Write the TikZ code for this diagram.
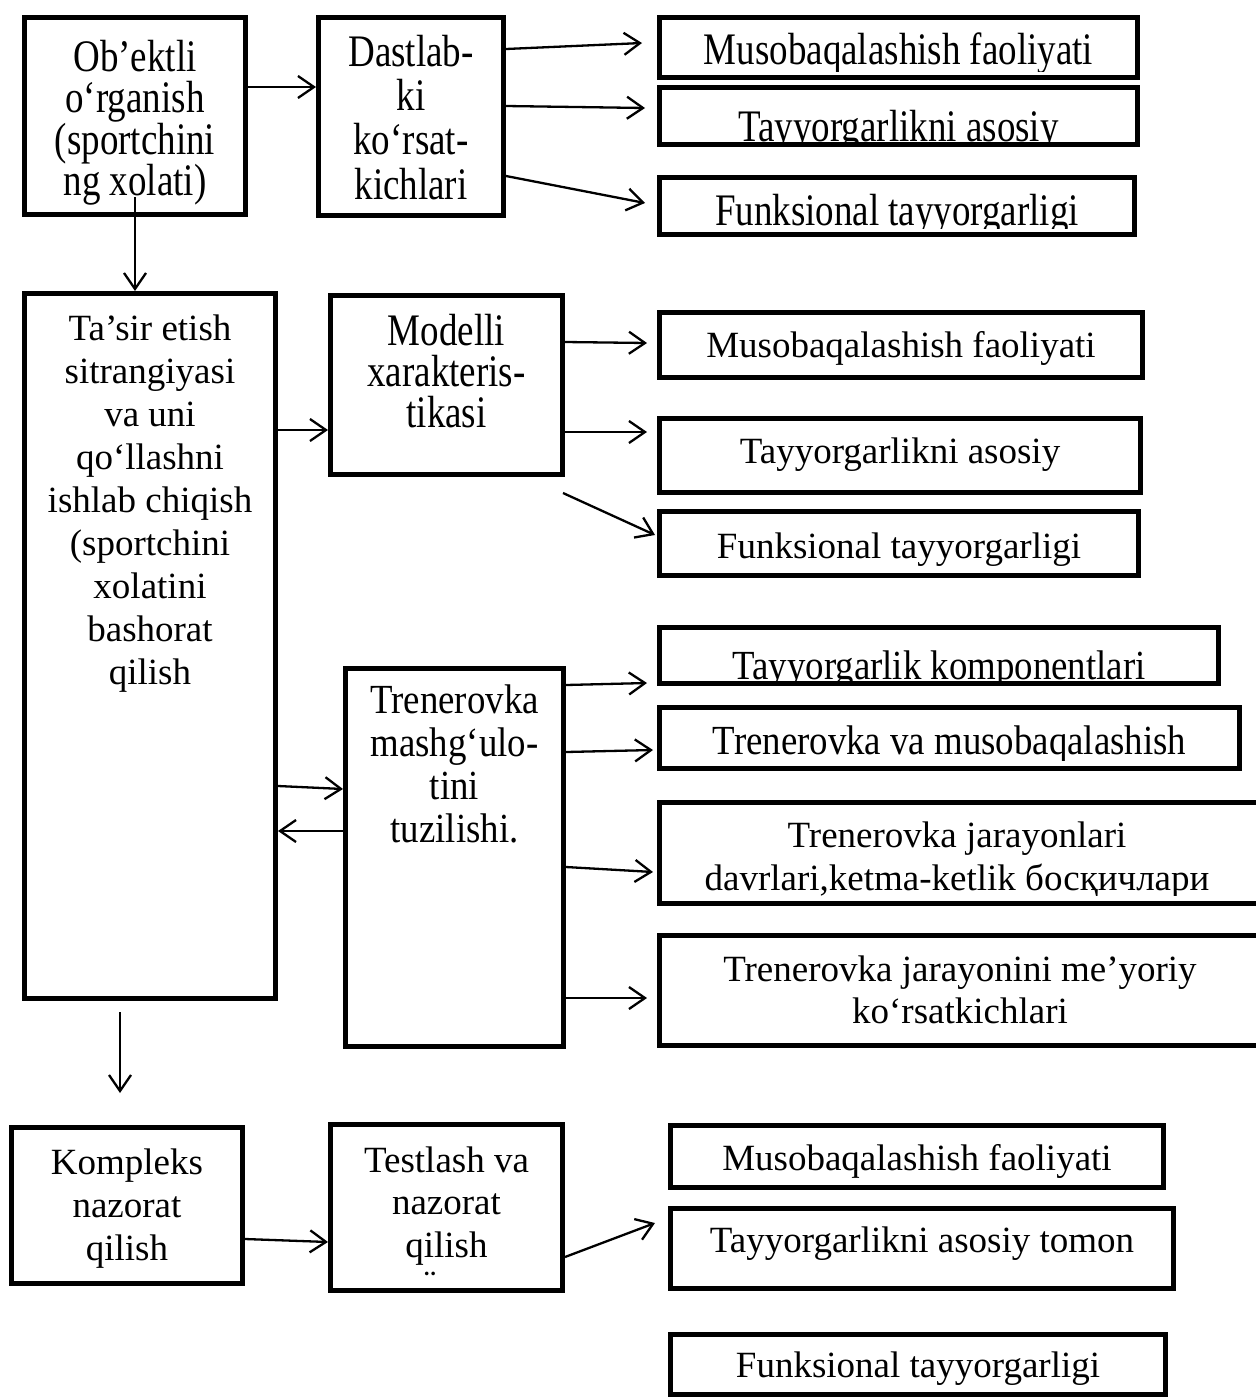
\documentclass[tikz,border=0pt]{standalone}
\usepackage{fontspec}
\setmainfont{Liberation Serif}
\newfontfamily\tallfont{Liberation Serif}[FakeStretch=0.82]
\newfontfamily\midfont{Liberation Serif}[FakeStretch=0.89]
\usetikzlibrary{arrows.meta,calc}

% box from its outer corners: name, x1, y1, x2, y2
\newcommand\mkbox[5]{\node[bx, minimum width={(#4-#2-5)*1pt}, minimum height={(#5-#3-5)*1pt}] (#1) at ({(#2+#4)/2},{(#3+#5)/2}) {};}
% one line of text cut off inside its box: name, box, x, baseline, cut line, style, text
\newcommand\cuttext[7]{\begin{scope}\clip (#2.north west) rectangle (#2.east |- 0,#5);
  \node[#6, anchor=base] (#1) at (#3,#4) {#7};\end{scope}}
% strut that fixes the height of a first line (baseline = top + 35)
\newcommand\firstline{\rule{0pt}{35pt}}

\tikzset{
  bx/.style={draw, line width=5pt, inner sep=0pt},
  fnt/.style n args={3}{font={#1\fontsize{#2}{#3}\selectfont}},
  lbl/.style={fnt={\rmfamily}{37}{42.5}, inner sep=0pt, align=center},
  tall/.style={lbl, fnt={\tallfont}{45.1}{42}},
  mid/.style={lbl, fnt={\midfont}{41.4}{43}},
  ml/.style={anchor=north},
  arr/.style={line width=2.3pt, -{Straight Barb[length=16pt,width=22pt]}}
}

\begin{document}
\lineskiplimit=-50pt\relax
\normallineskiplimit=-50pt\relax
\begin{tikzpicture}[x=1pt, y=-1pt]
\fill[white] (0,0) rectangle (1256,1398);
\useasboundingbox (0,0) rectangle (1256,1398);

% ---- boxes ----
\mkbox{A}{22}{15}{248}{217}
\mkbox{B}{316}{15}{506}{218}
\mkbox{R1}{657}{15}{1140}{80}
\mkbox{R2}{657}{85}{1140}{147}
\mkbox{R3}{657}{175}{1137}{237}
\mkbox{C}{22}{291}{278}{1001}
\mkbox{D}{328}{293}{565}{477}
\mkbox{R4}{657}{310}{1145}{380}
\mkbox{R5}{657}{416}{1143}{495}
\mkbox{R6}{657}{509}{1141}{578}
\mkbox{E}{343}{666}{566}{1049}
\mkbox{R7}{657}{625}{1221}{686}
\mkbox{R8}{657}{705}{1242}{771}
\mkbox{R9}{657}{800}{1264}{906}
\mkbox{R10}{657}{933}{1264}{1048}
\mkbox{F}{9}{1125}{245}{1286}
\mkbox{G}{328}{1122}{565}{1293}
\mkbox{R11}{668}{1123}{1166}{1190}
\mkbox{R12}{668}{1206}{1176}{1291}
\mkbox{R13}{668}{1332}{1168}{1397}

% ---- texts of the left and middle columns ----
\node[tall, ml, fnt={\tallfont}{45.1}{41.5}] (tA) at (135,36) {\firstline Ob’ektli\\o‘rganish\\(sportchini\\ng xolati)};
\node[tall, ml, fnt={\tallfont}{45.1}{44.3}] (tB) at (411,31) {\firstline Dastlab-\\ki\\ko‘rsat-\\kichlari};
\node[lbl, ml, fnt={\rmfamily}{37}{43}] (tC) at (150,305) {\firstline Ta’sir etish\\sitrangiyasi\\va uni\\qo‘llashni\\ishlab chiqish\\(sportchini\\xolatini\\bashorat\\qilish};
\node[tall, ml, fnt={\tallfont}{45.1}{41}] (tD) at (446.5,310) {\firstline Modelli\\xarakteris-\\tikasi};
\node[mid, ml] (tE) at (454.5,678) {\firstline Trenerovka\\mashg‘ulo-\\tini\\tuzilishi.};
\node[lbl, ml, fnt={\rmfamily}{37}{43}] (tF) at (127,1139) {\firstline Kompleks\\nazorat\\qilish};
\node[lbl, ml] (tG) at (446.5,1137) {\firstline Testlash va\\nazorat\\qilish};
\node[lbl] (tGd) at (430,1284) {¨};

% ---- texts of the right column ----
\cuttext{tR1}{R1}{898.5}{64}{71}{tall}{Musobaqalashish faoliyati}
\cuttext{tR2}{R2}{898.5}{141}{143}{tall}{Tayyorgarlikni asosiy}
\cuttext{tR3}{R3}{897}{225}{228}{tall}{Funksional tayyorgarligi}
\node[lbl, anchor=base] (tR4) at (901,357) {Musobaqalashish faoliyati};
\node[lbl, anchor=base] (tR5) at (900,463) {Tayyorgarlikni asosiy};
\cuttext{tR6}{R6}{899}{558}{569}{lbl}{Funksional tayyorgarligi}
\cuttext{tR7}{R7}{939}{679}{681}{mid}{Tayyorgarlik komponentlari}
\cuttext{tR8}{R8}{949.5}{754}{760}{mid}{Trenerovka va musobaqalashish}
\begin{scope}
  \clip (R9.north west) rectangle (R9.east |- 0,895);
  \node[lbl, ml, fnt={\rmfamily}{37}{43}] (tR9) at (957,812) {\firstline Trenerovka jarayonlari\\davrlari,ketma-ketlik босқичлари};
\end{scope}
\node[lbl, ml, fnt={\rmfamily}{37}{42}] (tR10) at (960,946) {\firstline Trenerovka jarayonini me’yoriy\\ko‘rsatkichlari};
\node[lbl, anchor=base] (tR11) at (917,1170) {Musobaqalashish faoliyati};
\node[lbl, anchor=base] (tR12) at (922,1252) {Tayyorgarlikni asosiy tomon};
\node[lbl, anchor=base] (tR13) at (918,1377) {Funksional tayyorgarligi};

% ---- connectors ----
\draw[arr] (A.east |- 0,87) -- (B.west |- 0,87);
\coordinate (a0) at (135,197);
\draw[arr] (a0) -- (a0 |- C.north);
\draw[arr] (B.east |- 0,49) -- ($(R1.west |- 0,43)+(-15,0)$);
\draw[arr] (B.east |- 0,106) -- ($(R2.west |- 0,108)+(-12,0)$);
\draw[arr] (B.east |- 0,176) -- ($(R3.west |- 0,203)+(-12,0)$);

\draw[arr] (C.east |- 0,430) -- (D.west |- 0,430);
\draw[arr] (D.east |- 0,342) -- ($(R4.west |- 0,343)+(-10,0)$);
\draw[arr] (D.east |- 0,432) -- ($(R5.west |- 0,432)+(-10,0)$);
\coordinate (d0) at (563,493);
\draw[arr] (d0) -- ($(R6.west |- 0,535)+(-2,0)$);

\draw[arr] (C.east |- 0,786) -- (E.west |- 0,789);
\draw[arr] (E.west |- 0,831) -- (C.east |- 0,831);
\draw[arr] (E.east |- 0,685) -- ($(R7.west |- 0,683)+(-10,0)$);
\draw[arr] (E.east |- 0,752) -- ($(R8.west |- 0,750)+(-4,0)$);
\draw[arr] (E.east |- 0,867) -- ($(R9.west |- 0,872)+(-4,0)$);
\draw[arr] (E.east |- 0,998) -- ($(R10.west |- 0,998)+(-10,0)$);

\draw[arr] ($(C.south -| 120,0)+(0,11)$) -- ($(F.north -| 120,0)+(0,-32)$);
\draw[arr] (F.east |- 0,1239) -- (G.west |- 0,1242);
\draw[arr] (G.east |- 0,1257) -- ($(R12.west |- 0,1223)+(-13,0)$);
\end{tikzpicture}
\end{document}
